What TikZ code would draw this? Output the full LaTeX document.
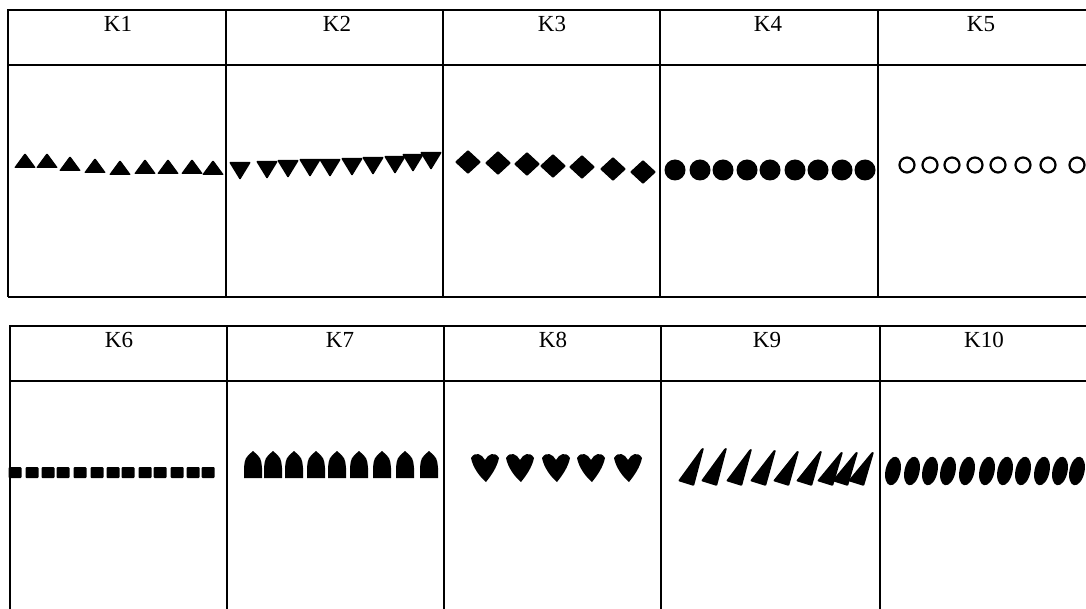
\documentclass[tikz,border=0pt]{standalone}
\usepackage{fontspec}
\setmainfont{Liberation Serif}
\begin{document}
\begin{tikzpicture}[x=1pt,y=-1pt,line width=1.4pt,
  kname/.style={anchor=north,inner sep=0pt,font=\fontsize{23}{23}\selectfont},
  blob/.style={fill=black,rounded corners=1pt}]
\useasboundingbox (0,0) rectangle (1086,609);

% upper table
\draw (8,297) -- (8,10) -- (1086,10);
\draw (8,65) -- (1086,65);
\draw (8,297) -- (1086,297);
\draw (226,10) -- (226,297);
\draw (443,10) -- (443,297);
\draw (660,10) -- (660,297);
\draw (878,10) -- (878,297);

% lower table
\draw (10,609) -- (10,326) -- (1086,326);
\draw (10,381) -- (1086,381);
\draw (227,326) -- (227,609);
\draw (444,326) -- (444,609);
\draw (661,326) -- (661,609);
\draw (880,326) -- (880,609);

\node[kname] (k1) at (118,16) {K1};
\node[kname] (k2) at (337,16) {K2};
\node[kname] (k3) at (552,16) {K3};
\node[kname] (k4) at (768,16) {K4};
\node[kname] (k5) at (981,16) {K5};
\node[kname] (k6) at (119,332) {K6};
\node[kname] (k7) at (340,332) {K7};
\node[kname] (k8) at (553,332) {K8};
\node[kname] (k9) at (767,332) {K9};
\node[kname] (k10) at (984,332) {K10};

% K1
\foreach \x/\y in {25/161,47/161,70/164,95/166,120/168,145/167,168/167,192/167,213/168}
  \path[blob] (\x-11,\y+7) -- (\x,\y-8) -- (\x+11,\y+7) -- cycle;
% K2
\foreach \x/\y in {240/170,267/169,288/168,310/167,330/167,352/166,373/165,395/164,413/162,431/160}
  \path[blob] (\x-11,\y-8) -- (\x+11,\y-8) -- (\x,\y+10) -- cycle;
% K3
\foreach \x/\y in {468/162,498/163,527/164,553/166,582/167,613/169,643/172}
  \path[blob] (\x-13,\y) -- (\x,\y-12) -- (\x+13,\y) -- (\x,\y+12) -- cycle;
% K4
\foreach \x in {675,700,723,747,770,795,818,842,865}
  \fill (\x,170) circle (10.5);
% K5
\foreach \x in {907,930,952,975,998,1023,1048,1077}
  \draw[line width=2.2pt] (\x,165) circle (7.5);

% K6
\foreach \x in {15,32,48,63,80,97,113,128,145,160,177,193,208}
  \path[blob] (\x-6.5,467) rectangle (\x+6.5,478);
% K7
\foreach \x in {253,273,294,316,337,359,382,405,429}
  \path[fill=black] (\x-9,478) -- (\x-9,468) .. controls (\x-8,458) .. (\x,451)
    .. controls (\x+8,458) .. (\x+9,468) -- (\x+9,478) -- cycle;
% K8
\foreach \x in {485,520,556,591,628}
  \path[fill=black] (\x-14,458) .. controls (\x-10,451) and (\x-3,454) .. (\x,460)
    .. controls (\x+3,454) and (\x+10,451) .. (\x+14,458)
    .. controls (\x+12,468) and (\x+5,477) .. (\x+1,482)
    .. controls (\x-5,477) and (\x-12,468) .. cycle;
% K9
\foreach \t/\y in {703/448,726/448,751/449,775/450,798/451,821/451,842/452,857/452,873/452}
  \path[blob] (\t-1,\y) -- (\t+1,\y) -- (\t-9,486) -- (\t-25,481) -- cycle;
% K10
\foreach \x in {893,912,930,948,967,987,1005,1023,1042,1060,1077}
  \fill[rotate around={-12:(\x,471)}] (\x,471) ellipse (7.5 and 14.5);
\end{tikzpicture}
\end{document}
